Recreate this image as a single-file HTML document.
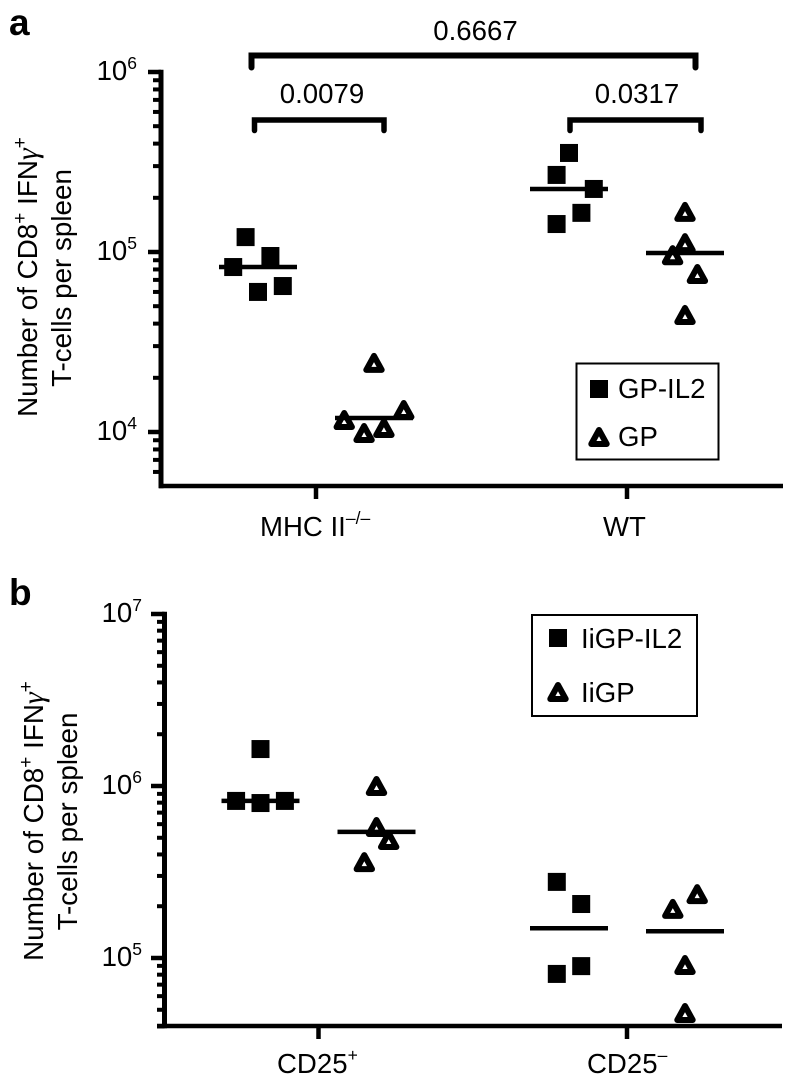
<!DOCTYPE html>
<html lang="en">
<head>
<meta charset="utf-8">
<title>CD8+ IFNγ+ T-cells per spleen</title>
<style>
  html, body { margin: 0; padding: 0; background: #fff; }
  svg { display: block; }
  text { font-family: "Liberation Sans", sans-serif; fill: #000; }
  .lbl { font-size: 27.6px; }
  .ttl { font-size: 27.8px; }
  .sup { font-size: 17.5px; }
  .sup2 { font-size: 19px; }
  .gam { font-family: "Liberation Serif", serif; font-style: italic; font-size: 30px; }
  .panel-letter { font-size: 37px; font-weight: bold; }
</style>
</head>
<body>
<svg id="figure" xmlns="http://www.w3.org/2000/svg" width="788" height="1080" viewBox="0 0 788 1080">
  <rect x="0" y="0" width="788" height="1080" fill="#fff"/>

  <g id="panel-a">
    <text class="panel-letter" x="9" y="35">a</text>
    <text class="ttl" transform="translate(37,277) rotate(-90)" text-anchor="middle">Number of CD8<tspan class="sup2" dy="-11">+</tspan><tspan dy="11"> IFN</tspan><tspan class="gam">γ</tspan><tspan class="sup2" dy="-11">+</tspan></text>
    <text class="ttl" transform="translate(71,278) rotate(-90)" text-anchor="middle">T-cells per spleen</text>
    <text class="lbl" x="260" y="536">MHC II<tspan class="sup" dy="-12">–/–</tspan></text>
    <text class="lbl" x="603" y="536">WT</text>

    <path d="M251.5 67.5V55.5H695.5V67.5" fill="none" stroke="#000" stroke-width="6" stroke-linecap="round" stroke-linejoin="miter"/>
    <text class="lbl" x="475.5" y="40" text-anchor="middle">0.6667</text>
    <path d="M254.5 130.5V120H384V130.5" fill="none" stroke="#000" stroke-width="5.5" stroke-linecap="round" stroke-linejoin="miter"/>
    <text class="lbl" x="322" y="103" text-anchor="middle">0.0079</text>
    <path d="M570 130.5V120H701V130.5" fill="none" stroke="#000" stroke-width="5.5" stroke-linecap="round" stroke-linejoin="miter"/>
    <text class="lbl" x="637" y="103" text-anchor="middle">0.0317</text>

    <g>
      <rect x="576.5" y="363.5" width="142" height="96" fill="#fff" stroke="#000" stroke-width="2"/>
      <rect x="590" y="380" width="18" height="18" fill="#000"/>
      <text class="lbl" x="618" y="398">GP-IL2</text>
      <path d="M599 430L591.3 444H606.7Z" fill="#fff" stroke="#000" stroke-width="6" stroke-linejoin="round"/>
      <text class="lbl" x="618" y="446">GP</text>
    </g>
  </g>

  <g id="panel-b">
    <text class="panel-letter" x="9" y="605">b</text>
    <text class="ttl" transform="translate(43,821) rotate(-90)" text-anchor="middle">Number of CD8<tspan class="sup2" dy="-11">+</tspan><tspan dy="11"> IFN</tspan><tspan class="gam">γ</tspan><tspan class="sup2" dy="-11">+</tspan></text>
    <text class="ttl" transform="translate(77,821.5) rotate(-90)" text-anchor="middle">T-cells per spleen</text>
    <text class="lbl" x="277" y="1073">CD25<tspan class="sup" dy="-12">+</tspan></text>
    <text class="lbl" x="587" y="1073">CD25<tspan class="sup" dy="-12">–</tspan></text>

    <g>
      <rect x="532" y="615" width="165" height="101" fill="#fff" stroke="#000" stroke-width="2"/>
      <rect x="549" y="629" width="18" height="18" fill="#000"/>
      <text class="lbl" x="581" y="648">IiGP-IL2</text>
      <path d="M558 685L550.3 699H565.7Z" fill="#fff" stroke="#000" stroke-width="6" stroke-linejoin="round"/>
      <text class="lbl" x="581" y="702">IiGP</text>
    </g>
  </g>
</svg>

<script>
// ---- Panel a data ----
const categoriesA = ["MHC II-/-", "WT"];
const tickExponentsA = [4, 5, 6];
const gpIl2MhcValues = [121000, 95000, 82500, 60000, 64700];
const gpIl2MhcSlots = [-1, 1, -2, 0, 2];
const gpMhcValues = [24200, 11650, 9870, 10520, 13240];
const gpMhcSlots = [0, -2.4, -0.8, 0.8, 2.4];
const gpIl2WtValues = [355000, 268000, 224000, 165000, 143000];
const gpIl2WtSlots = [0, -1, 2, 1, -1];
const gpWtValues = [167000, 112000, 96000, 75500, 44700];
const gpWtSlots = [0, 0, -1, 1, 0];
const mediansGpIl2A = [82500, 224000];
const mediansGpA = [11960, 98700];

// ---- Panel b data ----
const categoriesB = ["CD25+", "CD25-"];
const tickExponentsB = [5, 6, 7];
const iigpIl2PosValues = [1640000, 819000, 796000, 819000];
const iigpIl2PosSlots = [0, -2, 0, 2];
const iigpPosValues = [1000000, 578000, 485000, 361000];
const iigpPosSlots = [0, 0, 1, -1];
const iigpIl2NegValues = [277000, 206000, 89700, 80800];
const iigpIl2NegSlots = [-1, 1, 1, -1];
const iigpNegValues = [235000, 193000, 91000, 47900];
const iigpNegSlots = [1, -1, 0, 0];
const mediansIigpIl2B = [819000, 149000];
const mediansIigpB = [541000, 143000];

const SVG_NS = "http://www.w3.org/2000/svg";

function make(tag, attrs, parent) {
  const n = document.createElementNS(SVG_NS, tag);
  for (const k in attrs) n.setAttribute(k, attrs[k]);
  parent.appendChild(n);
  return n;
}

function drawAxes(root, cfg) {
  const y = cfg.yScale;
  const spine = make("line", { x1: cfg.spineX, x2: cfg.spineX, y1: y(cfg.yMax) - 2.2, y2: cfg.baseY + 2.2, stroke: "#000", "stroke-width": 5 }, root);
  
  

  const base = make("line", { x1: cfg.baseStartX, x2: cfg.baseEndX, y1: cfg.baseY, y2: cfg.baseY, stroke: "#000", "stroke-width": 4.5 }, root);
  
  

  const loExp = Math.floor(Math.log10(cfg.yMin));
  const hiExp = Math.round(Math.log10(cfg.yMax));
  for (let e = loExp; e < hiExp; e++) {
    for (let m = 2; m <= 9; m++) {
      const v = m * Math.pow(10, e);
      if (v < cfg.yMin || (v === cfg.yMin && !cfg.floorTick)) continue;
      const t = make("line", { x1: cfg.minorX, x2: cfg.spineX, y1: y(v), y2: y(v), stroke: "#000", "stroke-width": 4 }, root);
      
      
    }
  }

  cfg.tickExponents.forEach(function (e) {
    const v = Math.pow(10, e);
    const t = make("line", { x1: cfg.majorX, x2: cfg.spineX, y1: y(v), y2: y(v), stroke: "#000", "stroke-width": 4.5 }, root);
    
    

    const label = make("text", { x: cfg.labelX, y: y(v) + 8, "text-anchor": "end", class: "lbl" }, root);
    
    
    const ten = make("tspan", {}, label);
    ten.textContent = "10";
    const sup = make("tspan", { class: "sup", dy: -11 }, label);
    sup.textContent = String(e);
  });

  cfg.categories.forEach(function (c, i) {
    const x = cfg.xCat(i);
    const t = make("line", { x1: x, x2: x, y1: cfg.baseY, y2: cfg.baseY + 13, stroke: "#000", "stroke-width": 4.5 }, root);
    
    
  });
}

function drawSquares(root, cfg, values, slots, cx) {
  values.forEach(function (v, i) {
    const s = make("rect", { x: cx + slots[i] * cfg.slotStep - 9, y: cfg.yScale(v) - 9, width: 18, height: 18, fill: "#000" }, root);
    
    
  });
}

function drawTriangles(root, cfg, values, slots, cx) {
  values.forEach(function (v, i) {
    const px = cx + slots[i] * cfg.slotStep;
    const py = cfg.yScale(v);
    const d = "M" + px + " " + (py - 7) + "L" + (px - 7.7) + " " + (py + 7) + "H" + (px + 7.7) + "Z";
    const t = make("path", { d: d, fill: "#fff", stroke: "#000", "stroke-width": 6, "stroke-linejoin": "round" }, root);
    
    
  });
}

function drawMedian(root, cfg, value, cx) {
  const y = cfg.yScale(value);
  const m = make("line", { x1: cx - 39, x2: cx + 39, y1: y, y2: y, stroke: "#000", "stroke-width": 4.5 }, root);
  
  
}

function logScale(yMax, yAtMax, pxPerDecade) {
  return function (v) { return yAtMax + (Math.log10(yMax) - Math.log10(v)) * pxPerDecade; };
}

const configA = {
  categories: categoriesA, tickExponents: tickExponentsA,
  yMin: 5000, yMax: 1000000, yScale: logScale(1000000, 72, 180),
  spineX: 161, minorX: 153, majorX: 148, labelX: 137,
  baseY: 486, baseStartX: 159, baseEndX: 783, floorTick: false,
  xCat: function (i) { return 316 + i * 311; }, groupOffset: 58, slotStep: 12.4
};

const configB = {
  categories: categoriesB, tickExponents: tickExponentsB,
  yMin: 40000, yMax: 10000000, yScale: logScale(10000000, 614, 172),
  spineX: 164.5, minorX: 157, majorX: 151, labelX: 142,
  baseY: 1026, baseStartX: 157, baseEndX: 782, floorTick: true,
  xCat: function (i) { return 318.5 + i * 308.5; }, groupOffset: 58, slotStep: 12.2
};

function drawPanel(rootId, cfg, groups) {
  const root = document.getElementById(rootId);
  drawAxes(root, cfg);
  groups.forEach(function (g) {
    const cx = cfg.xCat(g.cat) + g.side * cfg.groupOffset;
    if (g.marker === "square") drawSquares(root, cfg, g.values, g.slots, cx);
    else drawTriangles(root, cfg, g.values, g.slots, cx);
    drawMedian(root, cfg, g.median, cx);
  });
}

drawPanel("panel-a", configA, [
  { cat: 0, side: -1, marker: "square", values: gpIl2MhcValues, slots: gpIl2MhcSlots, median: mediansGpIl2A[0] },
  { cat: 0, side: 1, marker: "triangle", values: gpMhcValues, slots: gpMhcSlots, median: mediansGpA[0] },
  { cat: 1, side: -1, marker: "square", values: gpIl2WtValues, slots: gpIl2WtSlots, median: mediansGpIl2A[1] },
  { cat: 1, side: 1, marker: "triangle", values: gpWtValues, slots: gpWtSlots, median: mediansGpA[1] }
]);

drawPanel("panel-b", configB, [
  { cat: 0, side: -1, marker: "square", values: iigpIl2PosValues, slots: iigpIl2PosSlots, median: mediansIigpIl2B[0] },
  { cat: 0, side: 1, marker: "triangle", values: iigpPosValues, slots: iigpPosSlots, median: mediansIigpB[0] },
  { cat: 1, side: -1, marker: "square", values: iigpIl2NegValues, slots: iigpIl2NegSlots, median: mediansIigpIl2B[1] },
  { cat: 1, side: 1, marker: "triangle", values: iigpNegValues, slots: iigpNegSlots, median: mediansIigpB[1] }
]);
</script>
</body>
</html>
